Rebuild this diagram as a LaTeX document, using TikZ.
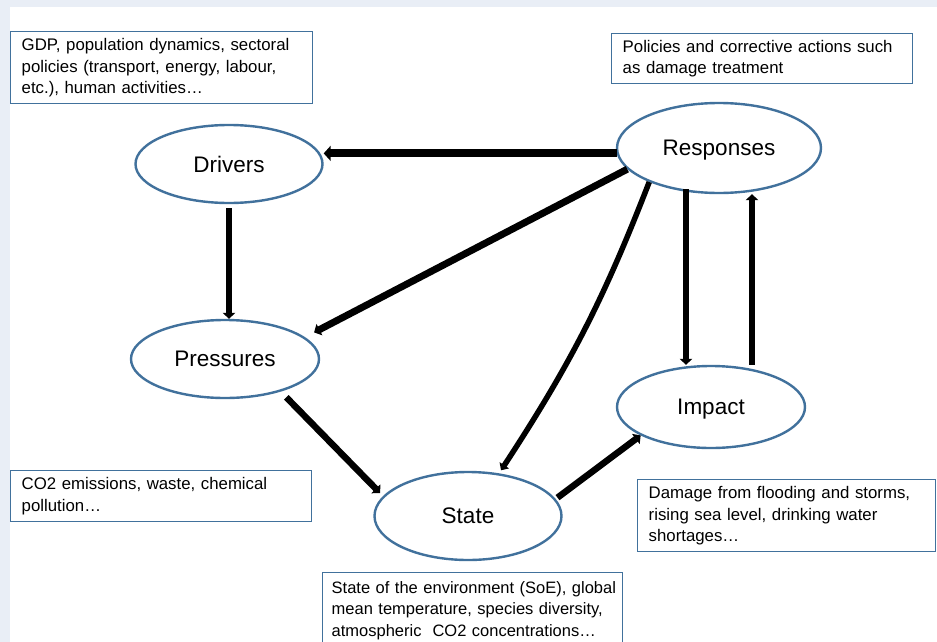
\documentclass[tikz,border=0pt]{standalone}
\usepackage{fontspec}
\setmainfont{Liberation Sans}
\usetikzlibrary{arrows.meta,shapes.geometric}
\definecolor{bandbg}{HTML}{E9EEF6}
\definecolor{edgeblue}{HTML}{41719C}
\tikzset{
  stage/.style={ellipse,draw=edgeblue,line width=2.4pt,fill=white,inner sep=0pt,
    text depth=0pt,font=\fontsize{22.5}{26}\selectfont},
  infobox/.style={rectangle,draw=edgeblue,line width=1.4pt,fill=white,anchor=north west,
    align=left,inner xsep=11pt,inner ysep=0pt,
    font=\fontsize{16.8}{21.5}\selectfont},
  flow/.style={draw=black,line width=6.5pt,-{Triangle[length=6pt,width=12.5pt]}},
  flowbig/.style={draw=black,line width=8pt,-{Triangle[length=7pt,width=15pt]}},
  flowthin/.style={draw=black,line width=5.5pt,-{Triangle[length=6pt,width=11pt]}},
}
\begin{document}
\begin{tikzpicture}[x=1pt,y=-1pt]
\useasboundingbox (0,0) rectangle (937,642);
\fill[bandbg] (0,0) rectangle (937,642);
\fill[white] (10,7) rectangle (937,642);

% stages
\node[stage,minimum width=187pt,minimum height=78pt] (drv) at (229,164) {Drivers};
\node[stage,minimum width=204pt,minimum height=90pt] (rsp) at (719,148) {Responses};
\node[stage,minimum width=188pt,minimum height=78pt] (prs) at (225,359) {Pressures};
\node[stage,minimum width=188pt,minimum height=82pt] (imp) at (711,407) {Impact};
\node[stage,minimum width=187pt,minimum height=88pt] (ste) at (468,516) {State};

% description boxes
\node[infobox,text width=280pt,minimum height=72pt] (gdp) at (10,31)
  {\mbox{GDP, population dynamics, sectoral}\\\mbox{policies (transport, energy, labour,}\\\mbox{etc.), human activities…}};
\node[infobox,text width=279pt,minimum height=50pt] (pol) at (611,33)
  {\mbox{Policies and corrective actions such}\\\mbox{as damage treatment}};
\node[infobox,text width=279pt,minimum height=51pt] (co2) at (10,470)
  {\mbox{CO2 emissions, waste, chemical}\\\mbox{pollution…}};
\node[infobox,text width=276pt,minimum height=72pt] (dmg) at (637,479)
  {\mbox{Damage from flooding and storms,}\\\mbox{rising sea level, drinking water}\\\mbox{shortages…}};
\node[infobox,inner xsep=9pt,text width=282pt,minimum height=76pt,
  font=\fontsize{16.5}{21.5}\selectfont] (soe) at (322,572)
  {\mbox{State of the environment (SoE), global}\\\mbox{mean temperature, species diversity,}\\\mbox{atmospheric~ CO2 concentrations…}};

% connectors
\draw[flowbig] (rsp.183) -- (rsp.183 -| drv.east);
\draw[flow] ([yshift=-4pt]drv.south) -- (drv.south |- prs.north);
\draw[flow,line width=7pt] (rsp.193) -- ([shift={(12,-3)}]prs.17);
\draw[flowthin] (rsp.206) to[bend left=6] ([shift={(2,-3)}]ste.54);
\draw[flow] ([shift={(-33,-5)}]rsp.south) -- ([xshift=-33pt]rsp.south |- imp.north);
\draw[flow] ([xshift=41pt]imp.north) -- ([xshift=41pt]imp.north |- rsp.south);
\draw[flow] ([shift={(8,5)}]prs.328) -- ([shift={(-4,-2)}]ste.166);
\draw[flow] ([shift={(3,0)}]ste.12) -- (imp.202);
\end{tikzpicture}
\end{document}
